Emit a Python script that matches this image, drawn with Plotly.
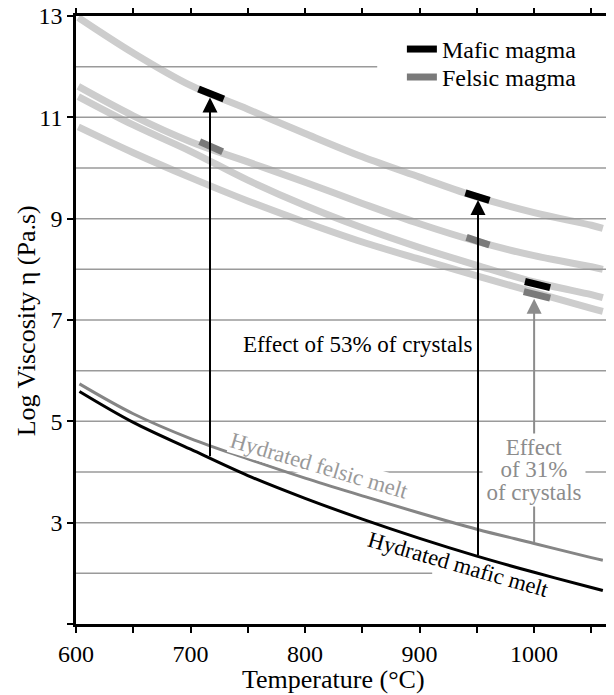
"""
    Viscosity of hydrated melts vs crystal-bearing magmas
"""

##########==========##########==========##########==========##########==========##########==========
## HEADER
import plotly.graph_objects as go

## temperatures (deg C) along the reference magma curves
magma_temp = [602, 650, 700, 750, 800, 850, 900, 950, 1000, 1050, 1060]
magma_a = [12.97, 12.27, 11.63, 11.16, 10.68, 10.22, 9.82, 9.43, 9.12, 8.87, 8.81]
magma_b = [11.61, 11.03, 10.52, 10.12, 9.72, 9.30, 8.90, 8.55, 8.27, 8.05, 8.00]
magma_c = [11.41, 10.85, 10.33, 9.76, 9.26, 8.82, 8.43, 8.08, 7.75, 7.50, 7.44]
magma_d = [10.81, 10.30, 9.81, 9.35, 8.93, 8.54, 8.20, 7.87, 7.55, 7.23, 7.17]

## hydrated melts
melt_temp = [603, 650, 700, 750, 800, 850, 900, 950, 1000, 1050, 1060]
mafic_melt = [5.59, 4.98, 4.45, 3.93, 3.48, 3.07, 2.69, 2.34, 2.02, 1.72, 1.66]
felsic_melt = [5.74, 5.15, 4.66, 4.26, 3.88, 3.53, 3.19, 2.87, 2.59, 2.31, 2.26]

## short magma marks (start / end of each segment)
mafic_t0 = [707, 940, 992]
mafic_t1 = [729, 961, 1014]
mafic_v0 = [11.56, 9.51, 7.76]
mafic_v1 = [11.36, 9.36, 7.64]
felsic_t0 = [708, 941, 991]
felsic_t1 = [728, 961, 1014]
felsic_v0 = [10.52, 8.63, 7.56]
felsic_v1 = [10.32, 8.48, 7.43]

## crystal effect arrows
arrow53_temp = [717, 951]
arrow53_from = [4.28, 2.33]
arrow53_to = [11.39, 9.37]
arrow31_temp = [1000]
arrow31_from = [2.59]
arrow31_to = [7.42]

## axes
x_ticks = [600, 700, 800, 900, 1000]
y_ticks = [1, 3, 5, 7, 9, 11, 13]
y_ticktext = ['', '3', '5', '7', '9', '11', '13']
grid_levels = [2, 3, 4, 5, 6, 7, 8, 9, 10, 11, 12]

params = dict(
    font = 'Liberation Serif, Times New Roman, serif', dark = 'black', light = 'white',
    pale = '#cdcdcd', grid = '#9a9a9a', felsic = '#7a7a7a', felsic_melt = '#858585',
    label_grey = '#8c8c8c', x_range = [600, 1068], y_range = [1, 13],
    grid_stop = {12: 863, 2: 911}
)

##########==========##########==========##########==========##########==========##########==========
## COMPONENT FUNCTIONS


def font(size, color = 'black', params = params) -> dict:
    return dict(family = params['font'], size = size, color = color)


def legend_box(y) -> dict:
    return dict(x = 0.608, y = y, xanchor = 'left', yanchor = 'top',
                bgcolor = 'rgba(0,0,0,0)', font = font(24))


def set_up_figure(params = params) -> go.Figure:
    """
        Purpose: empty figure with the framed axes
    """
    axis_common = dict(
        showline = True, linecolor = params['dark'], linewidth = 2.5, mirror = 'ticks',
        ticks = 'outside', ticklen = 6, tickwidth = 2, tickcolor = params['dark'],
        showgrid = False, zeroline = False, tickfont = font(24),
        automargin = False, ticklabeloverflow = 'allow'
    )
    fig = go.Figure()
    ## page body has an 8px margin, so the frame is shifted by that much
    fig = fig.update_layout(
        width = 614, height = 695,
        plot_bgcolor = params['light'], paper_bgcolor = params['light'],
        font = font(23),
        margin = go.layout.Margin(t = 8, l = 68, b = 79, r = 10),
        xaxis = dict(
            range = params['x_range'], tickvals = x_ticks,
            minor = dict(dtick = 50, tick0 = 600, ticks = 'outside', ticklen = 6,
                         tickwidth = 2, tickcolor = params['dark']),
            **axis_common
        ),
        yaxis = dict(
            range = params['y_range'], tickvals = y_ticks, ticktext = y_ticktext,
            **axis_common
        ),
        showlegend = True,
        legend = legend_box(0.982),
        legend2 = legend_box(0.936)
    )
    return fig


def draw_gridlines(params = params) -> go.Scatter:
    """
        Purpose: horizontal gridlines, some of them stopping early
    """
    xs, ys = list(), list()
    for lvl in grid_levels:
        xs += [params['x_range'][0], params['grid_stop'].get(lvl, params['x_range'][1]), None]
        ys += [lvl, lvl, None]
    return go.Scatter(
        x = xs, y = ys, mode = 'lines', showlegend = False, hoverinfo = 'skip',
        line = dict(color = params['grid'], width = 1.5)
    )


def draw_segments(t0, t1, v0, v1, name, color, legend) -> go.Scatter:
    """
        Purpose: short thick magma marks, one trace per magma type
    """
    xs, ys = list(), list()
    for a, b, c, d in zip(t0, t1, v0, v1):
        xs += [a, b, None]
        ys += [c, d, None]
    return go.Scatter(
        x = xs, y = ys, mode = 'lines', name = name, hoverinfo = 'skip',
        legend = legend, line = dict(color = color, width = 7)
    )


def draw_arrows(temps, start, end, color) -> list:
    """
        Purpose: vertical arrows from melt curve to magma mark
    """
    out = list()
    for t, a, b in zip(temps, start, end):
        out.append(dict(
            x = t, y = b, ax = t, ay = a, xref = 'x', yref = 'y', axref = 'x', ayref = 'y',
            text = '', showarrow = True, arrowhead = 2, arrowsize = 1.5,
            arrowwidth = 2, arrowcolor = color, standoff = 0
        ))
    return out


def draw_labels(params = params) -> list:
    """
        Purpose: text labels and axis titles
    """
    grey = params['label_grey']
    labels = [
        dict(x = 846, y = 6.51, text = 'Effect of 53% of crystals', font = font(23)),
        dict(x = 1000, y = 4.49, text = 'Effect', width = 100, bgcolor = 'white',
             font = font(23, grey)),
        dict(x = 1000, y = 4.04, text = 'of 31%', width = 100, bgcolor = 'white',
             font = font(23, grey)),
        dict(x = 1000, y = 3.59, text = 'of crystals', width = 100, bgcolor = 'white',
             font = font(23, grey)),
        dict(x = 812, y = 4.12, text = 'Hydrated felsic melt', textangle = 16.5,
             bgcolor = 'white', borderpad = 0, font = font(22.5, '#999999')),
        dict(x = 934, y = 2.17, text = 'Hydrated mafic melt', textangle = 16,
             font = font(22.5)),
    ]
    for lab in labels:
        lab.update(xref = 'x', yref = 'y', showarrow = False,
                   xanchor = 'center', yanchor = 'middle')
    labels += [
        dict(x = 0.481, y = -0.0905, xref = 'paper', yref = 'paper', showarrow = False,
             xanchor = 'center', yanchor = 'middle',
             text = 'Temperature (°C)', font = font(26)),
        dict(x = -0.093, y = 0.498, xref = 'paper', yref = 'paper', showarrow = False,
             xanchor = 'center', yanchor = 'middle',
             text = 'Log Viscosity η (Pa.s)', textangle = -90, font = font(26)),
    ]
    return labels


##########==========##########==========##########==========##########==========##########==========
## TOP-LEVEL FUNCTION

def draw_figure():
    fig = set_up_figure()

    ## pale reference curves
    for curve in [magma_a, magma_b, magma_c, magma_d]:
        fig.add_trace(go.Scatter(
            x = magma_temp, y = curve, mode = 'lines', line_shape = 'spline',
            showlegend = False, hoverinfo = 'skip',
            line = dict(color = params['pale'], width = 7)
        ))
    fig.add_trace(draw_gridlines())

    ## hydrated melts
    fig.add_trace(go.Scatter(
        x = melt_temp, y = felsic_melt, mode = 'lines', line_shape = 'spline',
        showlegend = False, line = dict(color = params['felsic_melt'], width = 3)))
    fig.add_trace(go.Scatter(
        x = melt_temp, y = mafic_melt, mode = 'lines', line_shape = 'spline',
        showlegend = False, line = dict(color = params['dark'], width = 3)))

    ## magma marks (these make the two legend entries)
    fig.add_trace(draw_segments(mafic_t0, mafic_t1, mafic_v0, mafic_v1,
                                'Mafic magma', params['dark'], 'legend'))
    fig.add_trace(draw_segments(felsic_t0, felsic_t1, felsic_v0, felsic_v1,
                                'Felsic magma', params['felsic'], 'legend2'))

    annotations = draw_arrows(arrow53_temp, arrow53_from, arrow53_to, params['dark'])
    annotations += draw_arrows(arrow31_temp, arrow31_from, arrow31_to, params['label_grey'])
    annotations += draw_labels()
    fig = fig.update_layout(annotations = annotations)
    fig.write_html('out.html')
    return fig


##########==========##########==========##########==========##########==========##########==========
## TEST CODE

if __name__ == '__main__':
    draw_figure()

##########==========##########==========##########==========##########==========##########==========
